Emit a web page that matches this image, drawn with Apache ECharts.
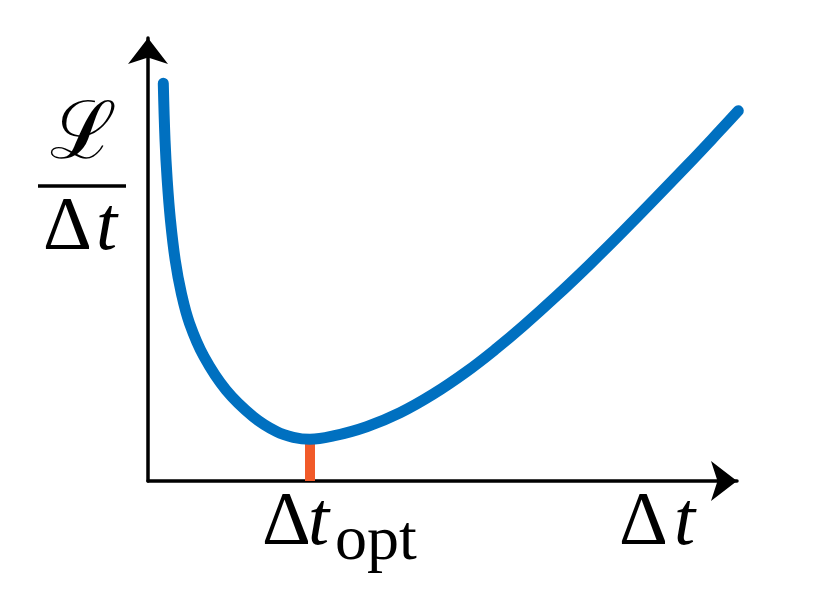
<!DOCTYPE html>
<html><head><meta charset="utf-8">
<script src="https://cdn.jsdelivr.net/npm/echarts@6/dist/echarts.min.js"></script>
<style>html,body{margin:0;padding:0;background:#fff}#c{width:814px;height:592px}</style>
</head><body><div id="c"></div>
<script>
// Curve L/Δt versus Δt (arbitrary units)
const curveX = [0.266, 0.296, 0.334, 0.390, 0.473, 0.579, 0.722, 0.974, 1.357, 1.831, 2.238, 2.527, 2.817, 3.223, 3.803, 4.383, 4.962, 5.543, 6.064, 6.527, 7.108, 7.687, 8.266, 9.369, 9.948, 10.266];
const curveY = [9.249, 7.930, 7.000, 6.070, 5.140, 4.372, 3.667, 2.891, 2.116, 1.495, 1.147, 1.016, 0.970, 1.047, 1.263, 1.588, 2.023, 2.547, 3.086, 3.607, 4.307, 5.042, 5.809, 7.328, 8.149, 8.609];
const optX = [2.817, 2.817];
const optY = [0, 0.97];
const xLabel = ['Δ', 't'];
const xOptLabel = ['Δ', 't', 'opt'];
const yLabelTop = 'ℒ';
const yLabelBottom = ['Δ', 't'];

const SERIF = '"Liberation Serif", "DejaVu Serif", serif';
const chart = echarts.init(document.getElementById('c'), null, {renderer: 'canvas'});
const axisLine = {
  show: true,
  symbol: ['none', 'arrow'],
  symbolSize: [30, 26],
  lineStyle: {color: '#000', width: 3.5}
};
const hidden = {show: false};
const PX_PER_X = 57.5;
const dataXMax = 10.5;
chart.setOption({
  animation: false,
  backgroundColor: '#fff',
  grid: [
    {left: 148, right: 77, top: 38, bottom: 111, containLabel: false},
    {left: 148, right: 814 - 148 - dataXMax * PX_PER_X, top: 51, bottom: 111, containLabel: false}
  ],
  xAxis: [
    {gridIndex: 0, type: 'value', min: 0, max: 10, axisLine: axisLine, axisTick: hidden, axisLabel: hidden, splitLine: hidden},
    {gridIndex: 1, type: 'value', min: 0, max: dataXMax, axisLine: hidden, axisTick: hidden, axisLabel: hidden, splitLine: hidden}
  ],
  yAxis: [
    {gridIndex: 0, type: 'value', min: 0, max: 10, axisLine: axisLine, axisTick: hidden, axisLabel: hidden, splitLine: hidden},
    {gridIndex: 1, type: 'value', min: 0, max: 10, axisLine: hidden, axisTick: hidden, axisLabel: hidden, splitLine: hidden}
  ],
  series: [
    {type: 'line', xAxisIndex: 1, yAxisIndex: 1, data: optX.map((x, i) => [x, optY[i]]), symbol: 'none', clip: false, z: 2,
     lineStyle: {color: '#F15A29', width: 10, cap: 'butt'}},
    {type: 'line', xAxisIndex: 1, yAxisIndex: 1, data: curveX.map((x, i) => [x, curveY[i]]), symbol: 'none', smooth: 0.4, clip: false, z: 3,
     lineStyle: {color: '#0070C0', width: 11, cap: 'round', join: 'round'}}
  ],
  graphic: [
    {type: 'text', x: 262, y: 524, style: {text: xOptLabel[0], font: '76px ' + SERIF, fill: '#000', textAlign: 'left', textVerticalAlign: 'middle'}},
    {type: 'text', x: 308, y: 524, style: {text: xOptLabel[1], font: 'italic 76px ' + SERIF, fill: '#000', textAlign: 'left', textVerticalAlign: 'middle'}},
    {type: 'text', x: 335, y: 542, style: {text: xOptLabel[2], font: '64px ' + SERIF, fill: '#000', textAlign: 'left', textVerticalAlign: 'middle'}},
    {type: 'text', x: 619, y: 524, style: {text: xLabel[0], font: '76px ' + SERIF, fill: '#000', textAlign: 'left', textVerticalAlign: 'middle'}},
    {type: 'text', x: 674, y: 524, style: {text: xLabel[1], font: 'italic 76px ' + SERIF, fill: '#000', textAlign: 'left', textVerticalAlign: 'middle'}},
    {type: 'text', x: 83, y: 137, style: {text: yLabelTop, font: '80px ' + SERIF, fill: '#000', textAlign: 'center', textVerticalAlign: 'middle'}},
    {type: 'line', shape: {x1: 38, y1: 186, x2: 126, y2: 186}, style: {stroke: '#000', lineWidth: 3.5}},
    {type: 'text', x: 43, y: 229, style: {text: yLabelBottom[0], font: '76px ' + SERIF, fill: '#000', textAlign: 'left', textVerticalAlign: 'middle'}},
    {type: 'text', x: 96, y: 229, style: {text: yLabelBottom[1], font: 'italic 76px ' + SERIF, fill: '#000', textAlign: 'left', textVerticalAlign: 'middle'}}
  ]
});
</script>
</body></html>
